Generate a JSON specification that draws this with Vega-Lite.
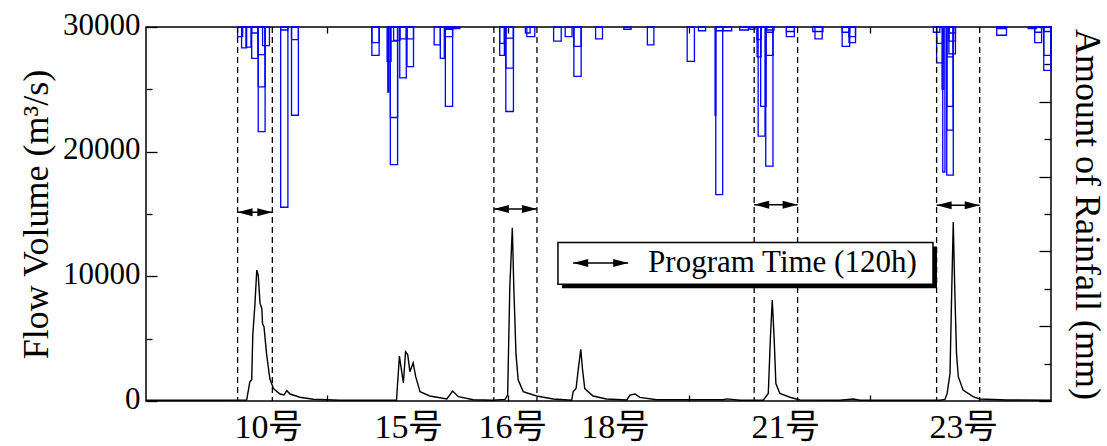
{
  "$schema": "https://vega.github.io/schema/vega-lite/v6.json",
  "width": 905,
  "height": 374,
  "autosize": {"type": "none"},
  "padding": {"left": 146, "top": 27, "right": 56, "bottom": 45},
  "background": "white",
  "config": {
    "view": {"stroke": "black", "strokeWidth": 1.5},
    "axis": {
      "labelFont": "Liberation Serif, Noto Sans CJK JP",
      "titleFont": "Liberation Serif",
      "labelColor": "black",
      "titleColor": "black",
      "tickColor": "black",
      "tickWidth": 1.3,
      "grid": false,
      "domain": false,
      "titleFontWeight": "normal",
      "labelFlush": false,
      "labelOverlap": false,
      "labelBound": false
    }
  },
  "datasets": {
    "flow": [
      {"t": 0, "q": 60}, {"t": 200, "q": 60}, {"t": 278, "q": 80}, {"t": 287, "q": 1550}, {"t": 292, "q": 1700},
      {"t": 295, "q": 5300}, {"t": 301, "q": 7800}, {"t": 306, "q": 10500}, {"t": 310, "q": 10100}, {"t": 315, "q": 7850},
      {"t": 320, "q": 7400}, {"t": 322, "q": 6200}, {"t": 326, "q": 5950}, {"t": 333, "q": 3800}, {"t": 342, "q": 1800},
      {"t": 352, "q": 1000}, {"t": 370, "q": 560}, {"t": 381, "q": 480}, {"t": 389, "q": 830}, {"t": 398, "q": 560},
      {"t": 425, "q": 300}, {"t": 462, "q": 140}, {"t": 536, "q": 60}, {"t": 692, "q": 60}, {"t": 700, "q": 3600},
      {"t": 711, "q": 1450}, {"t": 717, "q": 3950}, {"t": 723, "q": 3700}, {"t": 729, "q": 2350}, {"t": 738, "q": 3050},
      {"t": 745, "q": 1950}, {"t": 757, "q": 750}, {"t": 784, "q": 400}, {"t": 831, "q": 160}, {"t": 847, "q": 800},
      {"t": 863, "q": 350}, {"t": 904, "q": 100}, {"t": 959, "q": 60}, {"t": 992, "q": 130}, {"t": 999, "q": 480},
      {"t": 1005, "q": 9150}, {"t": 1012, "q": 13900}, {"t": 1016, "q": 9150}, {"t": 1022, "q": 3800}, {"t": 1028, "q": 1700},
      {"t": 1042, "q": 750}, {"t": 1079, "q": 400}, {"t": 1125, "q": 160}, {"t": 1176, "q": 60}, {"t": 1180, "q": 750},
      {"t": 1188, "q": 1000}, {"t": 1194, "q": 2500}, {"t": 1201, "q": 4150}, {"t": 1206, "q": 2500}, {"t": 1212, "q": 1000},
      {"t": 1235, "q": 400}, {"t": 1272, "q": 160}, {"t": 1328, "q": 80}, {"t": 1337, "q": 480}, {"t": 1351, "q": 560},
      {"t": 1364, "q": 290}, {"t": 1411, "q": 100}, {"t": 1595, "q": 100}, {"t": 1604, "q": 170}, {"t": 1641, "q": 60},
      {"t": 1705, "q": 60}, {"t": 1719, "q": 600}, {"t": 1725, "q": 5150}, {"t": 1730, "q": 8100}, {"t": 1735, "q": 5150},
      {"t": 1740, "q": 1400}, {"t": 1751, "q": 600}, {"t": 1779, "q": 300}, {"t": 1806, "q": 80}, {"t": 1917, "q": 60},
      {"t": 1954, "q": 160}, {"t": 1972, "q": 60}, {"t": 2193, "q": 60}, {"t": 2207, "q": 130}, {"t": 2213, "q": 600},
      {"t": 2221, "q": 2200}, {"t": 2226, "q": 9150}, {"t": 2230, "q": 14350}, {"t": 2234, "q": 9150}, {"t": 2239, "q": 3800},
      {"t": 2244, "q": 1950}, {"t": 2257, "q": 880}, {"t": 2285, "q": 350}, {"t": 2303, "q": 160}, {"t": 2377, "q": 80},
      {"t": 2500, "q": 60}
    ],
    "rain": [
      {"start": 253, "end": 267, "rain": 13}, {"start": 264, "end": 278, "rain": 28}, {"start": 276, "end": 290, "rain": 27},
      {"start": 292, "end": 310, "rain": 42}, {"start": 292, "end": 310, "rain": 8},
      {"start": 310, "end": 329, "rain": 37}, {"start": 310, "end": 329, "rain": 80}, {"start": 310, "end": 329, "rain": 140},
      {"start": 322, "end": 341, "rain": 25},
      {"start": 372, "end": 392, "rain": 241}, {"start": 372, "end": 392, "rain": 4},
      {"start": 402, "end": 421, "rain": 17}, {"start": 402, "end": 421, "rain": 118},
      {"start": 624, "end": 644, "rain": 21}, {"start": 624, "end": 644, "rain": 38},
      {"start": 666, "end": 677, "rain": 46}, {"start": 668, "end": 671, "rain": 87},
      {"start": 675, "end": 695, "rain": 19}, {"start": 675, "end": 695, "rain": 121}, {"start": 675, "end": 695, "rain": 184},
      {"start": 684, "end": 701, "rain": 18},
      {"start": 701, "end": 719, "rain": 16}, {"start": 701, "end": 719, "rain": 68},
      {"start": 721, "end": 739, "rain": 16}, {"start": 721, "end": 739, "rain": 53},
      {"start": 796, "end": 813, "rain": 24}, {"start": 813, "end": 824, "rain": 42},
      {"start": 827, "end": 847, "rain": 3}, {"start": 827, "end": 847, "rain": 13}, {"start": 827, "end": 847, "rain": 106},
      {"start": 831, "end": 867, "rain": 2},
      {"start": 977, "end": 990, "rain": 22}, {"start": 977, "end": 990, "rain": 38},
      {"start": 994, "end": 1015, "rain": 15}, {"start": 994, "end": 1015, "rain": 55}, {"start": 994, "end": 1015, "rain": 113},
      {"start": 1048, "end": 1061, "rain": 8}, {"start": 1052, "end": 1074, "rain": 13},
      {"start": 1126, "end": 1147, "rain": 19}, {"start": 1158, "end": 1177, "rain": 13},
      {"start": 1182, "end": 1202, "rain": 26}, {"start": 1182, "end": 1202, "rain": 66},
      {"start": 1242, "end": 1261, "rain": 16}, {"start": 1320, "end": 1340, "rain": 3}, {"start": 1385, "end": 1403, "rain": 24},
      {"start": 1495, "end": 1515, "rain": 46}, {"start": 1526, "end": 1546, "rain": 5},
      {"start": 1574, "end": 1593, "rain": 5}, {"start": 1574, "end": 1593, "rain": 224}, {"start": 1572, "end": 1574, "rain": 118},
      {"start": 1594, "end": 1618, "rain": 5}, {"start": 1640, "end": 1664, "rain": 4}, {"start": 1668, "end": 1682, "rain": 3},
      {"start": 1691, "end": 1710, "rain": 146}, {"start": 1698, "end": 1713, "rain": 106},
      {"start": 1688, "end": 1699, "rain": 40}, {"start": 1688, "end": 1699, "rain": 17},
      {"start": 1712, "end": 1732, "rain": 186}, {"start": 1712, "end": 1732, "rain": 38}, {"start": 1712, "end": 1732, "rain": 7},
      {"start": 1715, "end": 1735, "rain": 4},
      {"start": 1769, "end": 1791, "rain": 6}, {"start": 1769, "end": 1791, "rain": 13},
      {"start": 1842, "end": 1870, "rain": 6}, {"start": 1848, "end": 1868, "rain": 16},
      {"start": 1923, "end": 1944, "rain": 7}, {"start": 1923, "end": 1944, "rain": 26},
      {"start": 1942, "end": 1960, "rain": 13}, {"start": 1942, "end": 1960, "rain": 21},
      {"start": 2175, "end": 2193, "rain": 7},
      {"start": 2184, "end": 2202, "rain": 22}, {"start": 2184, "end": 2202, "rain": 48},
      {"start": 2199, "end": 2204, "rain": 83}, {"start": 2201, "end": 2207, "rain": 194},
      {"start": 2212, "end": 2230, "rain": 40}, {"start": 2212, "end": 2230, "rain": 106}, {"start": 2212, "end": 2230, "rain": 138}, {"start": 2212, "end": 2230, "rain": 198},
      {"start": 2218, "end": 2236, "rain": 8}, {"start": 2218, "end": 2236, "rain": 19}, {"start": 2218, "end": 2236, "rain": 36},
      {"start": 2350, "end": 2377, "rain": 2}, {"start": 2350, "end": 2377, "rain": 11},
      {"start": 2437, "end": 2460, "rain": 2},
      {"start": 2455, "end": 2474, "rain": 7}, {"start": 2455, "end": 2474, "rain": 21},
      {"start": 2480, "end": 2500, "rain": 6}, {"start": 2480, "end": 2500, "rain": 38}, {"start": 2480, "end": 2500, "rain": 58}
    ],
    "arrows": [
      {"kind": "window", "start": 253, "end": 349, "q": 15150},
      {"kind": "window", "start": 961, "end": 1080, "q": 15400},
      {"kind": "window", "start": 1680, "end": 1800, "q": 15750},
      {"kind": "window", "start": 2184, "end": 2303, "q": 15700},
      {"kind": "legend", "start": 1180, "end": 1332, "q": 11064}
    ],
    "legendBox": [
      {"item": "shadow", "x1": 1149, "x2": 2185, "q1": 12400, "q2": 9040},
      {"item": "box", "x1": 1138, "x2": 2174, "q1": 12720, "q2": 9360}
    ],
    "legendText": [
      {"label": "Program Time (120h)", "t": 1387, "q": 11080}
    ]
  },
  "resolve": {"scale": {"y": "independent"}, "axis": {"x": "independent", "y": "independent"}},
  "layer": [
    {
      "data": {"name": "rain"},
      "mark": {"type": "rect", "filled": false, "color": "#0000ff", "strokeWidth": 1.3},
      "encoding": {
        "x": {"field": "start", "type": "quantitative", "scale": {"domain": [0, 2500], "nice": false, "zero": false},
              "axis": {"orient": "bottom", "values": [500, 1000, 1500, 2000], "tickSize": -6, "labels": false, "title": null}},
        "x2": {"field": "end"},
        "y": {"field": "rain", "type": "quantitative", "scale": {"domain": [0, 500], "reverse": true, "nice": false},
              "axis": {"orient": "right", "values": [0, 100, 200, 300, 400, 500], "tickSize": -12, "labels": false,
                       "title": "Amount of Rainfall (mm)", "titleFont": "Liberation Serif", "titleFontWeight": "normal",
                       "titleFontSize": 36, "titlePadding": 16}},
        "y2": {"datum": 0}
      }
    },
    {
      "data": {"name": "rain"},
      "mark": {"type": "rect", "opacity": 0},
      "encoding": {
        "x": {"field": "start", "type": "quantitative", "scale": {"domain": [0, 2500], "nice": false, "zero": false}, "axis": null},
        "x2": {"field": "end"},
        "y": {"field": "rain", "type": "quantitative", "scale": {"domain": [0, 500], "reverse": true, "nice": false},
              "axis": {"orient": "right", "values": [50, 150, 250, 350, 450], "tickSize": -7, "labels": false, "title": null}},
        "y2": {"datum": 0}
      }
    },
    {
      "data": {"name": "flow"},
      "mark": {"type": "line", "color": "black", "strokeWidth": 1.4},
      "encoding": {
        "x": {"field": "t", "type": "quantitative", "scale": {"domain": [0, 2500], "nice": false, "zero": false},
              "axis": {"orient": "bottom", "values": [337, 724, 1011, 1295, 1765, 2257], "ticks": false,
                       "labelExpr": "datum.value == 337 ? '10号' : datum.value == 724 ? '15号' : datum.value == 1011 ? '16号' : datum.value == 1295 ? '18号' : datum.value == 1765 ? '21号' : '23号'",
                       "labelFontSize": 34, "labelPadding": 9, "title": null}},
        "y": {"field": "q", "type": "quantitative", "scale": {"domain": [0, 30000], "nice": false},
              "axis": {"orient": "left", "values": [0, 10000, 20000, 30000], "format": "d", "ticks": false, "labelFontSize": 31,
                       "labelPadding": 6, "labelOffset": -2, "title": "Flow Volume (m³/s)", "titleFont": "Liberation Serif",
                       "titleFontWeight": "normal", "titleFontSize": 36, "titlePadding": 7}}
      }
    },
    {
      "data": {"name": "arrows"},
      "transform": [{"filter": "datum.kind == 'window'"}, {"fold": ["start", "end"], "as": ["edge", "t"]}],
      "mark": {"type": "rule", "color": "black", "strokeWidth": 1.3, "strokeDash": [6, 4]},
      "encoding": {
        "x": {"field": "t", "type": "quantitative", "scale": {"domain": [0, 2500], "nice": false, "zero": false},
              "axis": {"orient": "top", "values": [500, 1000, 1500, 2000], "tickSize": -6, "labels": false, "title": null}}
      }
    },
    {
      "data": {"name": "legendBox"},
      "transform": [{"filter": "datum.item == 'shadow'"}],
      "mark": {"type": "rect", "color": "black"},
      "encoding": {
        "x": {"field": "x1", "type": "quantitative", "scale": {"domain": [0, 2500], "nice": false, "zero": false}, "axis": null},
        "x2": {"field": "x2"},
        "y": {"field": "q1", "type": "quantitative", "scale": {"domain": [0, 30000], "nice": false}, "axis": null},
        "y2": {"field": "q2"}
      }
    },
    {
      "data": {"name": "legendBox"},
      "transform": [{"filter": "datum.item == 'box'"}],
      "mark": {"type": "rect", "fill": "white", "stroke": "black", "strokeWidth": 1.5},
      "encoding": {
        "x": {"field": "x1", "type": "quantitative", "scale": {"domain": [0, 2500], "nice": false, "zero": false}, "axis": null},
        "x2": {"field": "x2"},
        "y": {"field": "q1", "type": "quantitative", "scale": {"domain": [0, 30000], "nice": false}, "axis": null},
        "y2": {"field": "q2"}
      }
    },
    {
      "data": {"name": "arrows"},
      "mark": {"type": "rule", "color": "black", "strokeWidth": 1.5},
      "encoding": {
        "x": {"field": "start", "type": "quantitative", "scale": {"domain": [0, 2500], "nice": false, "zero": false}, "axis": null},
        "x2": {"field": "end"},
        "y": {"field": "q", "type": "quantitative", "scale": {"domain": [0, 30000], "nice": false},
              "axis": {"orient": "left", "values": [0, 10000, 20000, 30000], "tickSize": -11, "labels": false, "title": null}}
      }
    },
    {
      "data": {"name": "arrows"},
      "mark": {"type": "point", "shape": "M0,0L3,-0.8L3,0.8Z", "filled": true, "color": "black", "size": 100, "opacity": 1, "strokeWidth": 0},
      "encoding": {
        "x": {"field": "start", "type": "quantitative", "scale": {"domain": [0, 2500], "nice": false, "zero": false}, "axis": null},
        "y": {"field": "q", "type": "quantitative", "scale": {"domain": [0, 30000], "nice": false},
              "axis": {"orient": "left", "values": [5000, 15000, 25000], "tickSize": -6, "labels": false, "title": null}}
      }
    },
    {
      "data": {"name": "arrows"},
      "mark": {"type": "point", "shape": "M0,0L-3,-0.8L-3,0.8Z", "filled": true, "color": "black", "size": 100, "opacity": 1, "strokeWidth": 0},
      "encoding": {
        "x": {"field": "end", "type": "quantitative", "scale": {"domain": [0, 2500], "nice": false, "zero": false}, "axis": null},
        "y": {"field": "q", "type": "quantitative", "scale": {"domain": [0, 30000], "nice": false}, "axis": null}
      }
    },
    {
      "data": {"name": "legendText"},
      "mark": {"type": "text", "align": "left", "baseline": "middle", "font": "Liberation Serif", "fontSize": 31, "color": "black"},
      "encoding": {
        "x": {"field": "t", "type": "quantitative", "scale": {"domain": [0, 2500], "nice": false, "zero": false}, "axis": null},
        "y": {"field": "q", "type": "quantitative", "scale": {"domain": [0, 30000], "nice": false}, "axis": null},
        "text": {"field": "label"}
      }
    }
  ]
}
